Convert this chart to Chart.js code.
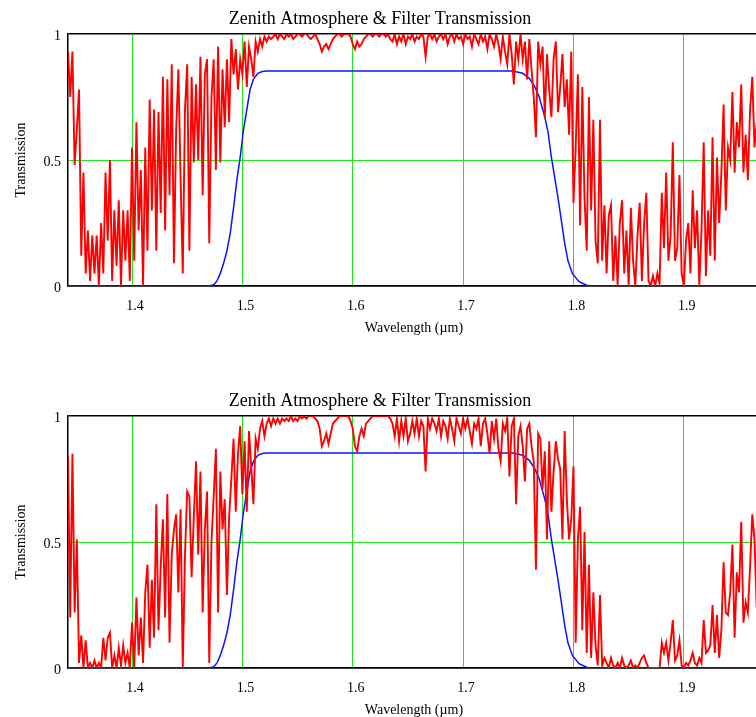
<!DOCTYPE html>
<html>
<head>
<meta charset="utf-8">
<title>Zenith Atmosphere &amp; Filter Transmission</title>
<script src="https://cdn.jsdelivr.net/npm/chart.js@4.4.1/dist/chart.umd.min.js"></script>
<style>
  html, body { margin: 0; padding: 0; background: #fff; overflow: hidden; }
  .panel { position: absolute; left: 0; width: 816px; height: 345px; }
  #panelTop { top: 0; }
  #panelBottom { top: 382px; }
</style>
</head>
<body>
<div class="panel" id="panelTop"><canvas id="atmTop" width="816" height="345"></canvas></div>
<div class="panel" id="panelBottom"><canvas id="atmBottom" width="816" height="345"></canvas></div>
<script>
const TITLE = 'Zenith Atmosphere & Filter Transmission';
const X_TITLE = 'Wavelength (\u00b5m)';
const Y_TITLE = 'Transmission';

const xTicks = [1.4, 1.5, 1.6, 1.7, 1.8, 1.9];
const yTicks = [0, 0.5, 1];

// sky spectrum sampling, nm
const skyWaveNm = [
  1342,1344,1346,1348,1350,1352,1354,1356,1358,1360,
  1362,1364,1366,1368,1370,1372,1374,1376,1378,1380,
  1382,1384,1386,1388,1390,1392,1394,1396,1398,1400,
  1402,1404,1406,1408,1410,1412,1414,1416,1418,1420,
  1422,1424,1426,1428,1430,1432,1434,1436,1438,1440,
  1442,1444,1446,1448,1450,1452,1454,1456,1458,1460,
  1462,1464,1466,1468,1470,1472,1474,1476,1478,1480,
  1482,1484,1486,1488,1490,1492,1494,1496,1498,1500,
  1502,1504,1506,1508,1510,1512,1514,1516,1518,1520,
  1522,1524,1526,1528,1530,1532,1534,1536,1538,1540,
  1542,1544,1546,1548,1550,1552,1554,1556,1558,1560,
  1562,1564,1566,1568,1570,1572,1574,1576,1578,1580,
  1582,1584,1586,1588,1590,1592,1594,1596,1598,1600,
  1602,1604,1606,1608,1610,1612,1614,1616,1618,1620,
  1622,1624,1626,1628,1630,1632,1634,1636,1638,1640,
  1642,1644,1646,1648,1650,1652,1654,1656,1658,1660,
  1662,1664,1666,1668,1670,1672,1674,1676,1678,1680,
  1682,1684,1686,1688,1690,1692,1694,1696,1698,1700,
  1702,1704,1706,1708,1710,1712,1714,1716,1718,1720,
  1722,1724,1726,1728,1730,1732,1734,1736,1738,1740,
  1742,1744,1746,1748,1750,1752,1754,1756,1758,1760,
  1762,1764,1766,1768,1770,1772,1774,1776,1778,1780,
  1782,1784,1786,1788,1790,1792,1794,1796,1798,1800,
  1802,1804,1806,1808,1810,1812,1814,1816,1818,1820,
  1822,1824,1826,1828,1830,1832,1834,1836,1838,1840,
  1842,1844,1846,1848,1850,1852,1854,1856,1858,1860,
  1862,1864,1866,1868,1870,1872,1874,1876,1878,1880,
  1882,1884,1886,1888,1890,1892,1894,1896,1898,1900,
  1902,1904,1906,1908,1910,1912,1914,1916,1918,1920,
  1922,1924,1926,1928,1930,1932,1934,1936,1938,1940,
  1942,1944,1946,1948,1950,1952,1954,1956,1958,1960,
  1962,1964,1966
];

// zenith atmosphere, upper panel
const skyTop = [
  0.93,0.75,0.93,0.48,0.62,0.78,0.12,0.45,0.05,0.22,
  0.02,0.20,0.05,0.20,0.00,0.25,0.05,0.45,0.18,0.50,
  0.02,0.30,0.08,0.34,0.00,0.30,0.10,0.30,0.02,0.55,
  0.10,0.65,0.22,0.46,0.00,0.55,0.14,0.74,0.30,0.70,
  0.14,0.69,0.29,0.83,0.22,0.82,0.36,0.88,0.09,0.62,
  0.86,0.43,0.05,0.70,0.88,0.14,0.83,0.49,0.80,0.50,
  0.91,0.36,0.84,0.90,0.17,0.75,0.90,0.46,0.95,0.49,
  0.86,0.63,0.90,0.65,0.98,0.84,0.94,0.78,0.90,0.84,
  0.97,0.79,0.95,0.90,0.83,0.97,0.93,0.98,0.95,0.99,
  0.97,0.99,0.98,0.99,1.00,0.98,1.00,0.99,0.98,1.00,
  0.99,1.00,0.98,0.99,1.00,1.00,0.99,1.00,1.00,0.99,
  0.98,0.99,1.00,0.98,0.96,0.93,0.95,0.96,0.94,0.96,
  0.98,0.99,1.00,1.00,0.99,1.00,1.00,1.00,0.99,0.96,
  0.94,0.97,0.95,0.96,0.98,0.99,1.00,1.00,0.99,1.00,
  1.00,0.99,1.00,1.00,0.99,1.00,0.98,0.97,1.00,0.96,
  0.99,0.97,1.00,0.96,0.99,0.98,1.00,0.97,0.99,0.98,
  1.00,0.99,0.91,0.99,1.00,0.98,1.00,0.97,0.99,1.00,
  0.98,1.00,0.96,0.99,1.00,0.97,1.00,0.98,0.99,0.96,
  1.00,0.98,0.99,0.95,1.00,0.98,0.96,1.00,0.97,0.99,
  0.94,1.00,0.98,0.95,1.00,0.96,0.90,0.99,0.93,0.88,
  1.00,0.92,0.80,0.97,0.90,1.00,0.90,0.97,0.82,0.98,
  0.86,0.75,0.59,0.97,0.88,0.95,0.67,0.92,0.78,0.67,
  0.90,0.97,0.69,0.79,0.92,0.71,0.82,0.60,0.93,0.33,
  0.55,0.84,0.24,0.79,0.35,0.14,0.75,0.30,0.66,0.18,
  0.09,0.66,0.10,0.32,0.05,0.28,0.32,0.02,0.20,0.00,
  0.25,0.34,0.05,0.22,0.00,0.31,0.10,0.00,0.20,0.33,
  0.02,0.25,0.37,0.02,0.00,0.04,0.00,0.05,0.01,0.37,
  0.15,0.45,0.10,0.20,0.57,0.10,0.15,0.44,0.05,0.00,
  0.18,0.25,0.05,0.38,0.15,0.30,0.00,0.22,0.57,0.04,
  0.30,0.12,0.59,0.10,0.51,0.25,0.45,0.72,0.30,0.55,
  0.50,0.77,0.45,0.65,0.55,0.80,0.45,0.60,0.42,0.70,
  0.83,0.55,0.65
];

// zenith atmosphere, lower panel
const skyBottom = [
  0.84,0.20,0.85,0.22,0.51,0.02,0.13,0.00,0.11,0.00,
  0.02,0.00,0.03,0.00,0.02,0.00,0.12,0.03,0.12,0.14,
  0.00,0.05,0.00,0.08,0.01,0.09,0.02,0.06,0.00,0.18,
  0.00,0.28,0.05,0.20,0.02,0.30,0.41,0.08,0.35,0.12,
  0.65,0.15,0.40,0.59,0.20,0.69,0.10,0.45,0.55,0.61,
  0.30,0.63,0.00,0.45,0.70,0.68,0.36,0.60,0.82,0.45,
  0.78,0.22,0.55,0.70,0.02,0.50,0.68,0.87,0.22,0.78,
  0.55,0.67,0.29,0.60,0.75,0.91,0.62,0.85,0.96,0.69,
  0.90,0.62,0.94,0.80,0.65,0.91,0.87,0.95,0.98,0.92,
  0.97,0.99,0.96,0.99,0.97,0.99,0.97,0.99,0.98,0.99,
  0.98,1.00,0.98,0.99,0.98,1.00,0.99,1.00,0.99,1.00,
  1.00,1.00,0.99,0.98,0.95,0.88,0.90,0.93,0.89,0.93,
  0.97,0.98,0.99,1.00,1.00,1.00,1.00,1.00,0.98,0.95,
  0.88,0.86,0.92,0.95,0.92,0.97,0.98,0.99,1.00,1.00,
  1.00,1.00,1.00,1.00,1.00,1.00,0.99,0.97,0.92,0.99,
  0.90,0.98,0.92,0.99,0.90,0.93,0.98,0.93,0.99,0.92,
  0.98,0.96,0.78,0.99,0.95,0.99,0.97,0.94,0.99,0.92,
  0.98,0.96,0.91,0.99,0.95,0.90,0.99,0.96,0.93,0.99,
  0.95,0.99,0.94,0.89,0.97,0.95,0.99,0.88,0.97,0.99,
  0.93,0.85,0.98,0.91,0.99,0.87,0.82,0.97,0.94,0.99,
  0.76,0.96,0.99,0.65,0.92,0.96,0.88,0.74,0.95,0.97,
  0.88,0.82,0.39,0.93,0.91,0.71,0.86,0.51,0.90,0.62,
  0.78,0.90,0.83,0.79,0.51,0.94,0.67,0.51,0.59,0.80,
  0.10,0.51,0.64,0.15,0.54,0.06,0.41,0.04,0.30,0.09,
  0.01,0.29,0.01,0.04,0.02,0.00,0.04,0.01,0.00,0.02,
  0.00,0.04,0.01,0.00,0.01,0.03,0.00,0.01,0.00,0.02,
  0.04,0.05,0.02,0.00,0.00,0.00,0.00,0.00,0.00,0.10,
  0.06,0.10,0.03,0.10,0.19,0.03,0.05,0.11,0.01,0.00,
  0.02,0.01,0.03,0.06,0.02,0.01,0.04,0.02,0.19,0.06,
  0.07,0.09,0.25,0.06,0.21,0.04,0.15,0.42,0.22,0.21,
  0.30,0.49,0.12,0.38,0.30,0.58,0.18,0.26,0.22,0.40,
  0.61,0.51,0.24
];

// H-band filter curve (same in both panels), um
const filterWave = [
  1.342, 1.470, 1.474, 1.477, 1.480, 1.483, 1.486, 1.489, 1.492, 1.495,
  1.498, 1.501, 1.504, 1.507, 1.510, 1.514, 1.518, 1.522, 1.745, 1.750,
  1.754, 1.760, 1.765, 1.769, 1.774, 1.777, 1.780, 1.783, 1.786, 1.789,
  1.792, 1.795, 1.799, 1.805, 1.812, 1.815, 1.969
];
const filterTrans = [
  0, 0, 0.005, 0.02, 0.05, 0.09, 0.14, 0.21, 0.31, 0.42,
  0.51, 0.62, 0.70, 0.78, 0.82, 0.844, 0.851, 0.853, 0.853, 0.848,
  0.844, 0.824, 0.79, 0.75, 0.67, 0.61, 0.51, 0.43, 0.35, 0.26,
  0.17, 0.10, 0.05, 0.017, 0.003, 0, 0
];

const SERIF = "'Liberation Serif', 'Times New Roman', serif";
const GREEN = '#1ee81e';

function drawPanel(canvasId, sky) {
  const skyPoints = skyWaveNm.map((w, i) => ({ x: w / 1000, y: sky[i] }));
  const filterPoints = filterWave.map((w, i) => ({ x: w, y: filterTrans[i] }));

  return new Chart(document.getElementById(canvasId), {
    type: 'line',
    data: {
      datasets: [
        {
          label: 'Atmosphere',
          data: skyPoints,
          borderColor: '#ff0000',
          borderWidth: 1.9,
          pointRadius: 0,
          tension: 0
        },
        {
          label: 'Filter',
          data: filterPoints,
          borderColor: '#0a14ff',
          borderWidth: 1.5,
          pointRadius: 0,
          tension: 0
        }
      ]
    },
    options: {
      responsive: false,
      animation: false,
      devicePixelRatio: 1,
      layout: { padding: { left: 0, right: 56, top: 0, bottom: 0 } },
      plugins: {
        legend: { display: false },
        tooltip: { enabled: false },
        title: {
          display: true,
          text: TITLE,
          color: '#000',
          font: { family: SERIF, size: 18, weight: 'normal' },
          padding: { top: 8, bottom: 4.4 }
        }
      },
      scales: {
        x: {
          type: 'linear',
          min: 1.342,
          max: 1.969,
          afterBuildTicks: s => { s.ticks = xTicks.map(v => ({ value: v })); },
          afterFit: s => { s.height = 59; },
          grid: { color: GREEN, lineWidth: 1, drawTicks: false, tickLength: 0 },
          border: { color: '#000', width: 1.5 },
          ticks: {
            color: '#000',
            font: { family: SERIF, size: 14 },
            padding: 12,
            labelOffset: 3,
            maxRotation: 0,
            callback: v => String(v)
          },
          title: {
            display: true,
            text: X_TITLE,
            color: '#000',
            font: { family: SERIF, size: 14 },
            padding: { top: 0, bottom: 8 }
          }
        },
        y: {
          type: 'linear',
          min: 0,
          max: 1,
          afterBuildTicks: s => { s.ticks = yTicks.map(v => ({ value: v })); },
          afterFit: s => { s.width = 68; },
          grid: {
            color: c => (c.tick && c.tick.value === 0.5 ? GREEN : '#000'),
            lineWidth: c => (c.tick && c.tick.value === 0.5 ? 1 : 1.5),
            drawTicks: false,
            tickLength: 0
          },
          border: { color: '#000', width: 1.5 },
          ticks: {
            color: '#000',
            font: { family: SERIF, size: 14 },
            padding: 7,
            labelOffset: 2,
            callback: v => String(v)
          },
          title: {
            display: true,
            text: Y_TITLE,
            color: '#000',
            font: { family: SERIF, size: 14 },
            padding: { top: 13, bottom: 0 }
          }
        }
      }
    }
  });
}

drawPanel('atmTop', skyTop);
drawPanel('atmBottom', skyBottom);
</script>
</body>
</html>
